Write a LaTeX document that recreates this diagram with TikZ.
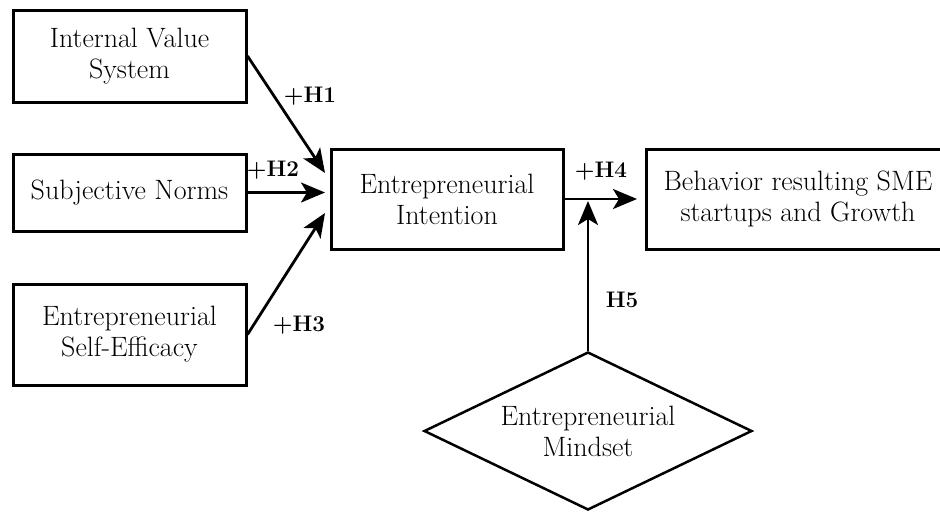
\documentclass[tikz,border=0pt]{standalone}
\usepackage{fontspec}
\usetikzlibrary{arrows.meta,shapes.geometric}
\begin{document}
\begin{tikzpicture}[x=1pt,y=-1pt,
    box/.style={draw,line width=3pt,align=center,inner sep=0pt,
      font=\fontsize{28}{31}\selectfont},
    conn/.style={line width=2.8pt,-{Stealth[length=24pt,width=20pt,inset=6pt]}},
    hyp/.style={font=\fontsize{22.5}{24}\selectfont\bfseries}]
  \useasboundingbox (0,0) rectangle (940,512);
  \clip (0,0) rectangle (940,512);
  % the three antecedents on the left
  \node[box,minimum width=233pt,minimum height=92pt] (ivs) at (129.5,56) {Internal Value\\System};
  \node[box,minimum width=233pt,minimum height=77pt] (sn) at (129.5,192.5) {Subjective Norms};
  \node[box,minimum width=233pt,minimum height=101pt] (ese) at (129.5,334.5) {Entrepreneurial\\Self-Efficacy};
  % intention and outcome
  \node[box,minimum width=232pt,minimum height=100pt] (ei) at (447,199) {Entrepreneurial\\Intention};
  \node[box,minimum width=304pt,minimum height=100pt] (bsg) at (798,199) {Behavior resulting SME\\startups and Growth};
  % moderator
  \node[diamond,draw,line width=2.5pt,align=center,inner sep=0pt,shape aspect=2.08,
    minimum width=328pt,minimum height=158pt,
    font=\fontsize{28}{31}\selectfont] (em) at (588,431) {Entrepreneurial\\Mindset};
  % arrow tips
  \coordinate (t1) at (325,173);
  \coordinate (t2) at (325,192.5);
  \coordinate (t3) at (325,213);
  \coordinate (t4) at (637,199);
  \coordinate (t5) at (588,201);
  % connectors
  \draw[conn] (ivs.east) -- (t1);
  \draw[conn] (sn.east) -- (t2);
  \draw[conn] (ese.east) -- (t3);
  \draw[conn] (ei.east) -- (t4);
  \draw[conn] (em.north) -- (t5);
  % hypothesis labels
  \node[hyp] (h1) at (310,96) {+H\oldstylenums{1}};
  \node[hyp] (h2) at (273,170) {+H\oldstylenums{2}};
  \node[hyp] (h3) at (299,325) {+H\oldstylenums{3}};
  \node[hyp] (h4) at (601,171) {+H\oldstylenums{4}};
  \node[hyp] (h5) at (622,300) {H\oldstylenums{5}};
\end{tikzpicture}
\end{document}
